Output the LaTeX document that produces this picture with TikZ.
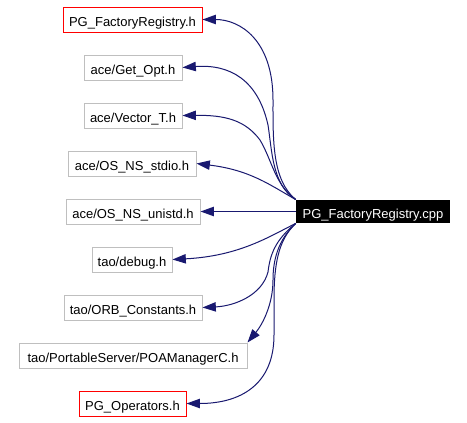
\documentclass[tikz,border=0pt]{standalone}
\usepackage{fontspec}
\setmainfont{Liberation Sans}
\usetikzlibrary{arrows.meta}
\definecolor{edgeblue}{RGB}{25,25,112}
\definecolor{boxgray}{RGB}{191,191,191}
\begin{document}
\begin{tikzpicture}[x=0.75pt,y=-0.75pt,
  every node/.style={font=\fontsize{9.75pt}{11pt}\selectfont, inner sep=0pt, minimum height=18.75pt, text height=10.4pt, text depth=0pt},
  hbox/.style={draw=boxgray, line width=0.75pt, fill=white},
  redbox/.style={draw=red, line width=0.75pt, fill=white},
  mainbox/.style={fill=black, text=white, minimum height=17.5pt, text height=10pt},
  edge/.style={draw=edgeblue, line width=0.75pt, -{Triangle[length=10pt,width=7pt]}}]
\useasboundingbox[fill=white] (0,0) rectangle (467,422);
\node[redbox, minimum width=104.25pt] (n1) at (132.5,19.5) {PG\_FactoryRegistry.h};
\node[hbox, minimum width=73.5pt] (n2) at (133,67.5) {ace/Get\_Opt.h};
\node[hbox, minimum width=73.5pt] (n3) at (133,115.5) {ace/Vector\_T.h};
\node[hbox, minimum width=96pt] (n4) at (132,163.5) {ace/OS\_NS\_stdio.h};
\node[hbox, minimum width=100.5pt] (n5) at (133,211.5) {ace/OS\_NS\_unistd.h};
\node[mainbox, minimum width=115.5pt] (cpp) at (373,211.5) {PG\_FactoryRegistry.cpp};
\node[hbox, minimum width=60pt] (n6) at (132,259.5) {tao/debug.h};
\node[hbox, minimum width=103.5pt] (n7) at (133,307.5) {tao/ORB\_Constants.h};
\node[hbox, minimum width=171pt] (n8) at (133,355.5) {tao/PortableServer/POAManagerC.h};
\node[redbox, minimum width=80.25pt] (n9) at (132.5,403.5) {PG\_Operators.h};
% edges
\draw[edge] (cpp.north west) .. controls (272,180) and (273,140) .. (273,100) .. controls (273,40) and (240,19.5) .. (n1.east);
\draw[edge] (cpp.north west) .. controls (272,185) and (272,150) .. (268,125) .. controls (258,80) and (230,64) .. (n2.east);
\draw[edge] (cpp.north west) .. controls (275,185) and (272,160) .. (260,140) .. controls (245,120) and (225,115) .. (n3.east);
\draw[edge] (cpp.north west) .. controls (270,185) and (250,170) .. (n4.east);
\draw[edge] (cpp.west) -- (n5.east);
\draw[edge] (cpp.south west) .. controls (270,236) and (240,256) .. (n6.east);
\draw[edge] (cpp.south west) .. controls (275,240) and (270,255) .. (268,272) .. controls (262,295) and (235,306) .. (n7.east);
\draw[edge] (cpp.south west) .. controls (278,240) and (273,260) .. (273,280) .. controls (273,305) and (262,325) .. (n8.north east);
\draw[edge] (cpp.south west) .. controls (278,240) and (274,265) .. (274,300) -- (274,335) .. controls (274,385) and (240,403.5) .. (n9.east);
\end{tikzpicture}
\end{document}
